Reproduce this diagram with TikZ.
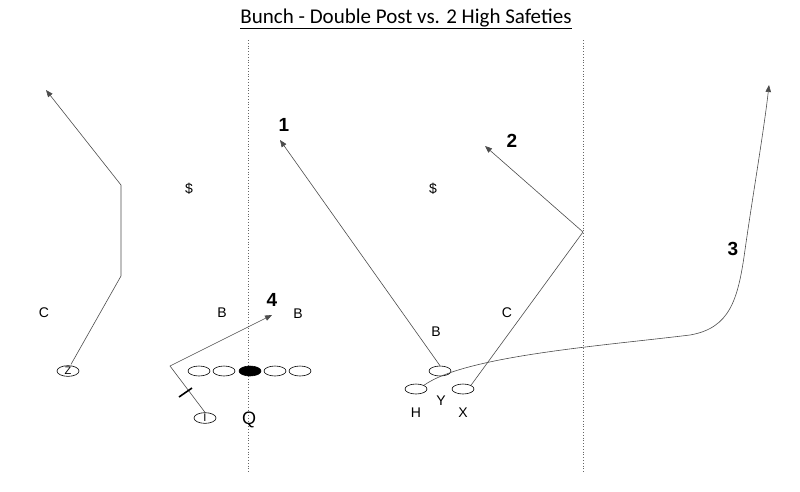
\documentclass[tikz,border=0pt]{standalone}
\usepackage{fontspec}
\setmainfont{Liberation Sans}
\newfontfamily\titlefont{Carlito}
\usetikzlibrary{arrows.meta,shapes.geometric}
\begin{document}
\begin{tikzpicture}[x=1pt,y=-1pt,
  player/.style={draw,ellipse,minimum width=22pt,minimum height=10pt,inner sep=0pt,line width=0.6pt,font=\fontsize{11}{11}\selectfont},
  lbl/.style={font=\fontsize{14}{14}\selectfont},
  num/.style={font=\bfseries\fontsize{19}{19}\selectfont},
  route/.style={draw=black!70,line width=0.6pt},
  rarrow/.style={route,-{Triangle[length=7pt,width=5.5pt]}},
  yardline/.style={draw=black!60,dotted,line width=0.8pt}]
\useasboundingbox (0,0) rectangle (800,491);
% title
\node[font=\titlefont\fontsize{21}{21}\selectfont,inner sep=1pt] (title) at (406,19) {\underline{Bunch - Double Post vs. 2 High Safeties}};
% yard lines
\coordinate (l1t) at (248,40); \coordinate (l1b) at (248,473);
\coordinate (l2t) at (583,40); \coordinate (l2b) at (583,473);
\draw[yardline] (l1t) -- (l1b);
\draw[yardline] (l2t) -- (l2b);
% offensive line
\node[player] (ol1) at (199,371) {};
\node[player] (ol2) at (224,371) {};
\node[player,fill=black] (ctr) at (250,371) {};
\node[player] (ol4) at (275,371) {};
\node[player] (ol5) at (300,371) {};
% skill players
\node[player] (Z) at (68,371) {Z};
\node[player] (I) at (205,418) {\rmfamily I};
\node[player] (Y) at (440,371) {};
\node[player] (H) at (416,389) {};
\node[player] (X) at (463,389) {};
% labels
\node[lbl] (Q) at (249,420) {\fontsize{18}{18}\selectfont Q};
\node[lbl] (Hl) at (416,413) {H};
\node[lbl] (Yl) at (441,401) {Y};
\node[lbl] (Xl) at (463,413) {X};
\node[lbl] (C1) at (44,313) {C};
\node[lbl] (B1) at (222,313) {B};
\node[lbl] (B2) at (298,314) {B};
\node[lbl] (B3) at (436,332) {B};
\node[lbl] (C2) at (507,313) {C};
\node[lbl] (S1) at (189,189) {\$};
\node[lbl] (S2) at (433,189) {\$};
\node[num] (n1) at (284,125) {1};
\node[num] (n2) at (512,141) {2};
\node[num] (n3) at (733,249) {3};
\node[num] (n4) at (272,300) {4};
% Z route
\coordinate (z1) at (121,276);
\coordinate (z2) at (121,185);
\coordinate (z3) at (46,90);
\draw[rarrow] (Z.north) ++(3,-1) -- (z1) -- (z2) -- (z3);
% route 1 (Y)
\coordinate (r1) at (280,140);
\draw[rarrow] (Y.north) -- (r1);
% route 2 (X)
\coordinate (r2a) at (583,232);
\coordinate (r2b) at (485,146);
\draw[rarrow] (X.north east) -- (r2a) -- (r2b);
% route 3 (H)
\coordinate (r3) at (769,85);
\draw[rarrow] (H.north east) .. controls (465,356) and (600,346) .. (690,335)
  .. controls (730,328) and (738,300) .. (745,250)
  .. controls (752,200) and (764,130) .. (r3);
% route 4 (I)
\coordinate (r4a) at (170,366);
\coordinate (r4b) at (272,315);
\draw[rarrow] (I.north) -- (r4a) -- (r4b);
\coordinate (blk1) at (179,397);
\coordinate (blk2) at (192,388);
\draw[line width=1.6pt] (blk1) -- (blk2);
\end{tikzpicture}
\end{document}
